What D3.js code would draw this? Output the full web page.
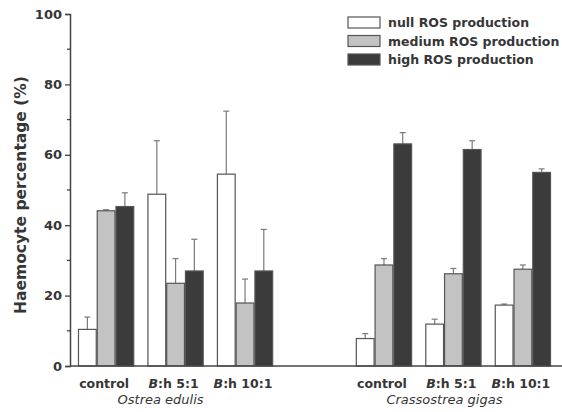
<!DOCTYPE html>
<html>
<head>
<meta charset="utf-8">
<script src="https://cdn.jsdelivr.net/npm/d3@7"></script>
<style>
body { margin: 0; background: #fff; }
text { font-family: "DejaVu Sans", Arial, sans-serif; fill: #363636; }
</style>
</head>
<body>
<div id="mainDiv"></div>
<script>
// data
var species = ["Ostrea edulis", "Crassostrea gigas"];
var treatments = ["control", "B:h 5:1", "B:h 10:1"];
var seriesNames = ["null ROS production", "medium ROS production", "high ROS production"];
var nullVals = [10.4, 48.8, 54.5, 7.8, 11.9, 17.3];
var nullErr = [3.5, 15.2, 17.9, 1.4, 1.4, 0.3];
var mediumVals = [44.1, 23.5, 17.9, 28.7, 26.2, 27.5];
var mediumErr = [0.3, 7.0, 6.8, 1.8, 1.5, 1.2];
var highVals = [45.3, 27.0, 27.0, 63.1, 61.5, 55.0];
var highErr = [3.9, 9.0, 11.8, 3.2, 2.5, 1.0];
var yTicks = [0, 20, 40, 60, 80, 100];

var fills = ["#ffffff", "#c3c3c3", "#3b3b3b"];
var values = [nullVals, mediumVals, highVals];
var errs = [nullErr, mediumErr, highErr];

var mySvg = d3.select("#mainDiv").append("svg")
              .attr("width", 562)
              .attr("height", 412);

// 7 slots, the middle one empty
var slots = [];
species.forEach(function (s, si) {
    treatments.forEach(function (t) { slots.push(si + "|" + t); });
    if (si === 0) slots.push("gap");
});

var x = d3.scaleBand().domain(slots).range([70, 559])
          .paddingInner(0.19).paddingOuter(0.115);
var xs = d3.scaleBand().domain([0, 1, 2]).range([0, x.bandwidth()]);
var y = d3.scaleLinear().domain([0, 100]).range([366, 14]);

// rows: one per bar
var rows = [];
species.forEach(function (s, si) {
    treatments.forEach(function (t, ti) {
        var k = si * 3 + ti;
        for (var j = 0; j < 3; j++) {
            rows.push({slot: si + "|" + t, s: j, v: values[j][k], e: errs[j][k]});
        }
    });
});

// error bars (drawn first so bars sit on top)
var eb = mySvg.append("g").selectAll("g").data(rows).enter().append("g")
              .attr("stroke", "#7a7a7a").attr("stroke-width", 1.2);
eb.append("line")
  .attr("x1", function (d) { return x(d.slot) + xs(d.s) + xs.bandwidth() / 2; })
  .attr("x2", function (d) { return x(d.slot) + xs(d.s) + xs.bandwidth() / 2; })
  .attr("y1", function (d) { return y(d.v); })
  .attr("y2", function (d) { return y(d.v + d.e); });
eb.append("line")
  .attr("x1", function (d) { return x(d.slot) + xs(d.s) + xs.bandwidth() / 2 - 3; })
  .attr("x2", function (d) { return x(d.slot) + xs(d.s) + xs.bandwidth() / 2 + 3; })
  .attr("y1", function (d) { return y(d.v + d.e); })
  .attr("y2", function (d) { return y(d.v + d.e); });

mySvg.append("g").selectAll("rect").data(rows).enter().append("rect")
     .attr("x", function (d) { return x(d.slot) + xs(d.s) + 0.5; })
     .attr("width", xs.bandwidth() - 1)
     .attr("y", function (d) { return y(d.v); })
     .attr("height", function (d) { return y(0) - y(d.v); })
     .attr("fill", function (d) { return fills[d.s]; })
     .attr("stroke", "#555")
     .attr("stroke-width", 1.2);

// y axis
var yAxis = mySvg.append("g").attr("transform", "translate(70,0)")
                 .call(d3.axisLeft(y).tickValues(yTicks).tickSize(5).tickPadding(3));
yAxis.select(".domain").attr("stroke", "#444").attr("stroke-width", 1.5);
yAxis.selectAll(".tick line").attr("stroke", "#444").attr("stroke-width", 1.3);
yAxis.selectAll(".tick text").attr("font-size", 13).attr("font-weight", "bold")
     .attr("fill", "#363636").style("font-family", "DejaVu Sans, Arial, sans-serif");
// minor ticks
mySvg.append("g").selectAll("line").data([10, 30, 50, 70, 90]).enter().append("line")
     .attr("x1", 67).attr("x2", 70)
     .attr("y1", function (d) { return y(d); }).attr("y2", function (d) { return y(d); })
     .attr("stroke", "#444").attr("stroke-width", 1.3);

// x baseline
mySvg.append("line").attr("x1", 70).attr("x2", 562)
     .attr("y1", y(0)).attr("y2", y(0))
     .attr("stroke", "#444").attr("stroke-width", 1.5);

// category labels
var cat = mySvg.append("g").selectAll("text").data(slots.filter(function (d) { return d !== "gap"; }))
     .enter().append("text")
     .attr("x", function (d) { return x(d) + x.bandwidth() / 2 - 2; })
     .attr("y", 388)
     .attr("text-anchor", "middle")
     .attr("font-size", 12.5).attr("font-weight", "bold");
cat.each(function (d) {
    var t = d.split("|")[1];
    var el = d3.select(this);
    if (t.indexOf("B:") === 0) {
        el.append("tspan").attr("font-style", "italic").text("B");
        el.append("tspan").text(t.slice(1));
    } else {
        el.text(t);
    }
});

// species labels
var speciesShift = [-15, -9];
mySvg.append("g").selectAll("text").data(species).enter().append("text")
     .attr("x", function (d, i) { return x(i + "|" + treatments[1]) + x.bandwidth() / 2 + speciesShift[i]; })
     .attr("y", 404)
     .attr("text-anchor", "middle")
     .attr("font-size", 13).attr("font-style", "italic")
     .text(function (d) { return d; });

// y title
mySvg.append("text")
     .attr("transform", "translate(26,195) rotate(-90)")
     .attr("text-anchor", "middle")
     .attr("font-size", 15.5).attr("font-weight", "bold")
     .text("Haemocyte percentage (%)");

// legend
var leg = mySvg.append("g").selectAll("g").data(seriesNames).enter().append("g")
               .attr("transform", function (d, i) { return "translate(348," + (17 + i * 18.5) + ")"; });
leg.append("rect").attr("width", 32).attr("height", 11)
   .attr("fill", function (d, i) { return fills[i]; })
   .attr("stroke", "#555").attr("stroke-width", 1.2);
leg.append("text").attr("x", 40).attr("y", 10)
   .attr("font-size", 12.5).attr("font-weight", "bold")
   .text(function (d) { return d; });
</script>
</body>
</html>
